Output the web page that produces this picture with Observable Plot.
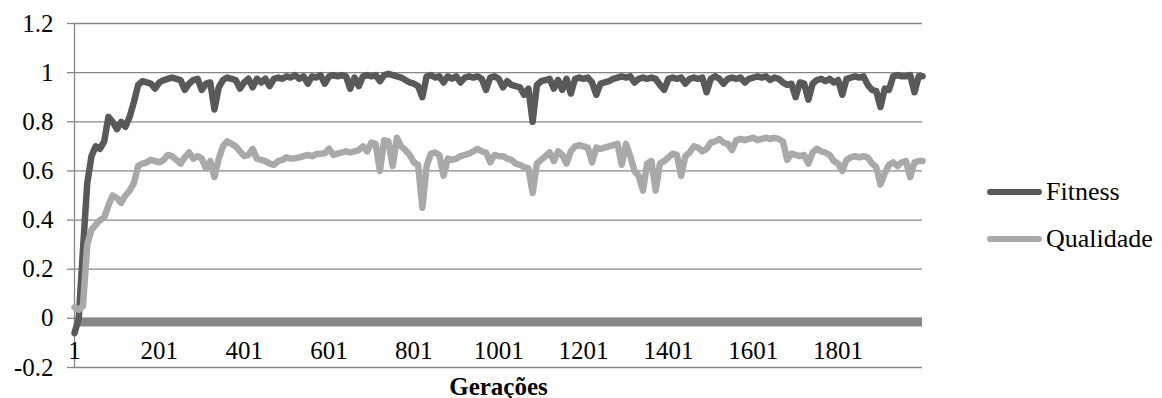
<!DOCTYPE html>
<html><head><meta charset="utf-8">
<script src="https://cdn.jsdelivr.net/npm/d3@7"></script>
<script src="https://cdn.jsdelivr.net/npm/@observablehq/plot@0.6"></script>
<style>
body{margin:0;background:#fff;}
#wrap{position:relative;width:1162px;height:398px;font-family:"Liberation Serif","Times New Roman",Tinos,"DejaVu Serif",serif;}
.leg{position:absolute;left:987px;display:flex;align-items:center;font-size:26px;color:#000;line-height:1;}
.leg .sw{display:inline-block;width:55px;height:6px;border-radius:3px;margin-right:4px;}
svg text{font-family:"Liberation Serif","Times New Roman",Tinos,"DejaVu Serif",serif !important;}
</style></head><body><div id="wrap"></div>
<script>
// Generations sampled every 10 (category axis 1..2000)
const generations = d3.range(1, 2000, 10).concat([2000]);
const seriesNames = ["Fitness", "Qualidade"];
const seriesColors = ["#595959", "#a9a9a9"];
const fitness = [
-0.06, 0.00, 0.28, 0.55, 0.66, 0.70, 0.69, 0.72, 0.82, 0.80,
0.77, 0.80, 0.78, 0.82, 0.88, 0.95, 0.965, 0.96, 0.955, 0.935,
0.96, 0.97, 0.975, 0.98, 0.975, 0.97, 0.93, 0.955, 0.97, 0.975,
0.93, 0.955, 0.96, 0.85, 0.94, 0.97, 0.98, 0.975, 0.97, 0.935,
0.96, 0.975, 0.94, 0.975, 0.96, 0.975, 0.945, 0.975, 0.98, 0.975,
0.985, 0.98, 0.99, 0.975, 0.985, 0.955, 0.985, 0.98, 0.99, 0.955,
0.985, 0.99, 0.985, 0.99, 0.985, 0.935, 0.98, 0.945, 0.985, 0.99,
0.985, 0.99, 0.965, 0.99, 0.995, 0.99, 0.985, 0.98, 0.97, 0.96,
0.955, 0.945, 0.90, 0.985, 0.99, 0.98, 0.985, 0.96, 0.985, 0.975,
0.985, 0.96, 0.98, 0.985, 0.98, 0.985, 0.975, 0.93, 0.98, 0.985,
0.975, 0.94, 0.965, 0.95, 0.945, 0.94, 0.91, 0.935, 0.80, 0.95,
0.965, 0.97, 0.975, 0.935, 0.97, 0.93, 0.975, 0.915, 0.975, 0.98,
0.975, 0.98, 0.96, 0.91, 0.955, 0.96, 0.965, 0.975, 0.98, 0.985,
0.98, 0.985, 0.96, 0.975, 0.98, 0.975, 0.98, 0.975, 0.95, 0.93,
0.975, 0.98, 0.975, 0.98, 0.955, 0.975, 0.98, 0.975, 0.98, 0.92,
0.975, 0.985, 0.975, 0.955, 0.975, 0.98, 0.975, 0.98, 0.96, 0.975,
0.98, 0.985, 0.98, 0.985, 0.97, 0.98, 0.975, 0.96, 0.95, 0.955,
0.90, 0.96, 0.955, 0.89, 0.955, 0.97, 0.975, 0.965, 0.975, 0.96,
0.97, 0.91, 0.975, 0.98, 0.985, 0.98, 0.985, 0.95, 0.93, 0.925,
0.86, 0.935, 0.93, 0.985, 0.99, 0.985, 0.985, 0.99, 0.92, 0.985,
0.985
];
const qualidade = [
0.045, 0.035, 0.05, 0.30, 0.36, 0.38, 0.40, 0.41, 0.46, 0.50,
0.49, 0.47, 0.50, 0.52, 0.55, 0.62, 0.63, 0.635, 0.645, 0.64,
0.635, 0.645, 0.665, 0.66, 0.645, 0.63, 0.655, 0.675, 0.65, 0.66,
0.65, 0.61, 0.64, 0.575, 0.65, 0.70, 0.72, 0.71, 0.70, 0.68,
0.66, 0.665, 0.69, 0.65, 0.645, 0.64, 0.63, 0.625, 0.64, 0.645,
0.655, 0.65, 0.652, 0.655, 0.66, 0.665, 0.66, 0.668, 0.67, 0.672,
0.69, 0.665, 0.67, 0.675, 0.68, 0.675, 0.68, 0.685, 0.70, 0.68,
0.715, 0.71, 0.60, 0.725, 0.72, 0.62, 0.735, 0.70, 0.685, 0.665,
0.635, 0.625, 0.45, 0.62, 0.67, 0.675, 0.665, 0.58, 0.65, 0.645,
0.65, 0.66, 0.665, 0.67, 0.68, 0.69, 0.68, 0.675, 0.635, 0.665,
0.66, 0.66, 0.65, 0.645, 0.63, 0.625, 0.615, 0.61, 0.51, 0.63,
0.645, 0.66, 0.675, 0.64, 0.68, 0.665, 0.63, 0.68, 0.70, 0.705,
0.70, 0.695, 0.635, 0.695, 0.69, 0.695, 0.70, 0.705, 0.71, 0.625,
0.71, 0.66, 0.60, 0.58, 0.52, 0.63, 0.64, 0.52, 0.63, 0.64,
0.655, 0.67, 0.665, 0.58, 0.66, 0.675, 0.70, 0.695, 0.68, 0.69,
0.715, 0.72, 0.73, 0.715, 0.71, 0.685, 0.725, 0.73, 0.725, 0.73,
0.735, 0.725, 0.73, 0.735, 0.73, 0.735, 0.73, 0.72, 0.645, 0.67,
0.665, 0.66, 0.665, 0.63, 0.675, 0.69, 0.68, 0.675, 0.665, 0.64,
0.63, 0.60, 0.645, 0.655, 0.66, 0.655, 0.66, 0.655, 0.63, 0.615,
0.545, 0.59, 0.625, 0.635, 0.62, 0.635, 0.64, 0.575, 0.635, 0.64,
0.64
];
const baseline = [-0.015];
const yTicks = [-0.2, 0, 0.2, 0.4, 0.6, 0.8, 1, 1.2];
const xTicks = [1, 201, 401, 601, 801, 1001, 1201, 1401, 1601, 1801];
const xTitle = "Gerações";

const rowsF = generations.map((g, i) => ({g, v: fitness[i], s: seriesNames[0]}));
const rowsQ = generations.map((g, i) => ({g, v: qualidade[i], s: seriesNames[1]}));

const serif = "'Liberation Serif','Times New Roman',Tinos,'DejaVu Serif',serif";
const gridColor = "#868686";
const chart = Plot.plot({
  width: 1162, height: 398,
  marginLeft: 74, marginRight: 240, marginTop: 23, marginBottom: 31,
  style: {fontFamily: serif, fontSize: "25px", color: "#000", background: "#fff", overflow: "visible"},
  x: {domain: [1, 2000]},
  y: {domain: [-0.2, 1.2]},
  marks: [
    Plot.ruleY(yTicks, {stroke: gridColor, strokeWidth: 1.3}),
    Plot.axisY({ticks: yTicks, tickSize: 7, tickPadding: 14, stroke: gridColor, strokeWidth: 1.3, tickFormat: d => String(+d.toFixed(1)), fill: "#000", label: null}),
    Plot.ruleX([1], {stroke: gridColor, strokeWidth: 1.3}),
    Plot.ruleY(baseline, {stroke: "#878787", strokeWidth: 9}),
    Plot.axisX({ticks: xTicks, tickSize: 0, tickPadding: 0, dy: -26, tickFormat: d => String(d), fill: "#000", label: null}),
    Plot.line(rowsF, {x: "g", y: "v", stroke: seriesColors[0], strokeWidth: 6.5, strokeLinejoin: "round", strokeLinecap: "round"}),
    Plot.line(rowsQ, {x: "g", y: "v", stroke: seriesColors[1], strokeWidth: 6.5, strokeLinejoin: "round", strokeLinecap: "round"}),
    Plot.text([xTitle], {frameAnchor: "bottom", dy: 19, fontWeight: "bold", fontSize: 25, lineAnchor: "middle", fill: "#000"})
  ]
});
const wrap = document.getElementById("wrap");
wrap.appendChild(chart);
const legTops = [192, 239];
seriesNames.forEach((name, i) => {
  const d = document.createElement("div");
  d.className = "leg";
  d.style.top = (legTops[i] - 13) + "px";
  d.innerHTML = `<span class="sw" style="background:${seriesColors[i]}"></span><span>${name}</span>`;
  wrap.appendChild(d);
});
</script></body></html>
